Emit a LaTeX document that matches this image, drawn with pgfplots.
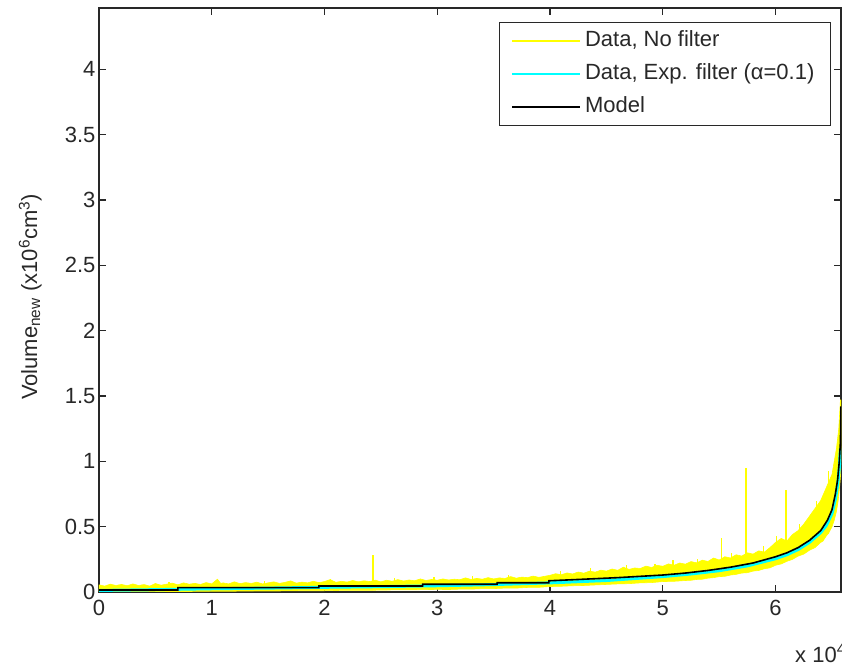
\documentclass[border=0pt]{standalone}
\usepackage{fontspec}
\setmainfont{Liberation Sans}
\usepackage{pgfplots}
\pgfplotsset{compat=1.18}
\usetikzlibrary{calc}
\definecolor{myyellow}{RGB}{255,255,0}
\definecolor{mycyan}{RGB}{0,255,255}
\definecolor{axcol}{RGB}{40,40,40}
\newcommand{\bigf}{\fontsize{22}{26}\selectfont}
\begin{document}
\begin{tikzpicture}
\begin{axis}[
  name=ax,
  at={(0,0)}, anchor=south west,
  scale only axis,
  width=742pt, height=584pt,
  xmin=0, xmax=6.58, ymin=0, ymax=4.47,
  xtick={0,1,2,3,4,5,6},
  ytick={0,0.5,1,1.5,2,2.5,3,3.5,4},
  yticklabels={0,0.5,1,1.5,2,2.5,3,3.5,4},
  xticklabels={0,1,2,3,4,5,6},
  tick align=inside,
  major tick length=7pt,
  tick style={axcol, line width=1.2pt},
  axis line style={axcol, line width=1.5pt},
  ticklabel style={font=\bigf, text=axcol},
  xticklabel style={yshift=-5pt},
  /pgf/number format/assume math mode=true,
  ylabel={Volume\textsubscript{new} (x10\textsuperscript{6}cm\textsuperscript{3})},
  ylabel style={font=\bigf, text=axcol, inner sep=0pt, anchor=south, at={(axis description cs:-0.077,0.505)}},
  legend cell align=left,
  legend image code/.code={\draw[#1, line width=1.5pt] (0pt,0pt) -- (68pt,0pt);},
  legend style={at={(0.9865,0.976)}, anchor=north east, draw=axcol, line width=1.2pt, fill=white,
    inner xsep=12pt, inner ysep=2pt, font=\bigf, text=axcol,
    nodes={inner xsep=4pt, inner ysep=6pt, text height=16pt, text depth=5pt}},
  unbounded coords=jump,
  clip=true,
]
\addlegendimage{myyellow}
\addlegendentry{Data, No filter}
% yellow noisy data: jagged band (upper edge, then lower edge back)
\addplot[draw=myyellow, fill=myyellow, line width=0.6pt, forget plot] coordinates {
(0.00,0.055) (0.05,0.045) (0.10,0.060) (0.15,0.050) (0.20,0.058) (0.25,0.048) (0.30,0.062) (0.35,0.050)
(0.40,0.057) (0.45,0.045) (0.50,0.065) (0.55,0.052) (0.60,0.060) (0.65,0.068) (0.70,0.055) (0.75,0.070)
(0.80,0.060) (0.85,0.066) (0.90,0.058) (0.95,0.072) (1.00,0.062) (1.05,0.098) (1.08,0.065) (1.10,0.070)
(1.15,0.062) (1.20,0.078) (1.25,0.064) (1.30,0.072) (1.35,0.066) (1.40,0.075) (1.45,0.062) (1.50,0.070)
(1.55,0.078) (1.60,0.066) (1.65,0.074) (1.70,0.085) (1.75,0.068) (1.80,0.076) (1.85,0.070) (1.90,0.082)
(1.95,0.072) (2.00,0.080) (2.05,0.095) (2.10,0.074) (2.15,0.082) (2.20,0.076) (2.25,0.088) (2.30,0.078)
(2.35,0.086) (2.40,0.080) (2.45,0.090) (2.50,0.078) (2.55,0.090) (2.60,0.082) (2.65,0.095) (2.70,0.084)
(2.75,0.092) (2.80,0.086) (2.85,0.100) (2.90,0.088) (2.95,0.096) (3.00,0.090) (3.05,0.100) (3.10,0.092)
(3.15,0.098) (3.20,0.094) (3.25,0.108) (3.30,0.096) (3.35,0.104) (3.40,0.098) (3.45,0.110) (3.50,0.100)
(3.55,0.108) (3.60,0.104) (3.65,0.118) (3.70,0.106) (3.75,0.114) (3.80,0.110) (3.85,0.122) (3.90,0.112)
(3.95,0.120) (4.00,0.128) (4.05,0.140) (4.10,0.132) (4.15,0.146) (4.20,0.138) (4.25,0.153) (4.30,0.144)
(4.35,0.160) (4.40,0.152) (4.45,0.167) (4.50,0.160) (4.55,0.176) (4.60,0.166) (4.65,0.190) (4.70,0.173)
(4.75,0.184) (4.80,0.180) (4.85,0.198) (4.90,0.188) (4.95,0.204) (5.00,0.197) (5.05,0.215) (5.10,0.205)
(5.15,0.222) (5.20,0.213) (5.25,0.233) (5.30,0.223) (5.35,0.244) (5.40,0.234) (5.45,0.260) (5.50,0.245)
(5.55,0.270) (5.60,0.260) (5.65,0.285) (5.70,0.275) (5.75,0.300) (5.80,0.290) (5.85,0.315) (5.90,0.305)
(5.95,0.340) (6.00,0.380) (6.05,0.410) (6.10,0.390) (6.15,0.440) (6.20,0.470) (6.25,0.520) (6.30,0.580)
(6.35,0.640) (6.40,0.700) (6.45,0.800) (6.48,0.860) (6.50,0.900) (6.52,1.000) (6.54,1.100) (6.56,1.250)
(6.575,1.470) (6.58,1.470)
(6.58,1.000) (6.575,0.880) (6.565,0.780) (6.555,0.700) (6.54,0.620) (6.52,0.550) (6.50,0.500) (6.47,0.450)
(6.45,0.430) (6.42,0.390) (6.40,0.380) (6.35,0.340) (6.30,0.320) (6.25,0.290) (6.20,0.275) (6.15,0.250)
(6.10,0.235) (6.05,0.215) (6.00,0.205) (5.95,0.185) (5.90,0.178) (5.85,0.165) (5.80,0.160) (5.75,0.148)
(5.70,0.145) (5.65,0.135) (5.60,0.130) (5.55,0.120) (5.50,0.118) (5.45,0.110) (5.40,0.106) (5.35,0.098)
(5.30,0.096) (5.25,0.090) (5.20,0.088) (5.10,0.082) (5.00,0.080) (4.90,0.072) (4.80,0.070) (4.70,0.064)
(4.60,0.062) (4.50,0.058) (4.40,0.054) (4.30,0.050) (4.20,0.048) (4.10,0.044) (4.00,0.042) (3.90,0.036)
(3.80,0.035) (3.70,0.030) (3.60,0.030) (3.50,0.026) (3.40,0.026) (3.30,0.022) (3.20,0.022) (3.10,0.019)
(3.00,0.020) (2.80,0.017) (2.60,0.016) (2.40,0.013) (2.20,0.013) (2.00,0.010) (1.80,0.010) (1.60,0.008)
(1.40,0.008) (1.20,0.006) (1.00,0.006) (0.80,0.004) (0.60,0.004) (0.40,0.003) (0.20,0.003) (0.00,0.003)
} -- cycle;
% isolated spikes of the raw data
\addplot[myyellow, line width=1.6pt, forget plot] coordinates {
(2.43,0.04) (2.43,0.28) (2.43,nan)
(5.09,0.12) (5.09,0.245) (5.09,nan)
(5.52,0.16) (5.52,0.41) (5.52,nan)
(5.74,0.18) (5.74,0.95) (5.74,nan)
(6.09,0.25) (6.09,0.78) (6.09,nan)
(6.47,0.50) (6.47,0.93) (6.47,nan)
};
% small spikes on the upper edge
\addplot[myyellow, line width=1.2pt, forget plot] coordinates {
(0.62,0.03) (0.62,0.080) (0.62,nan)
(1.47,0.04) (1.47,0.088) (1.47,nan)
(2.05,0.05) (2.05,0.102) (2.05,nan)
(2.62,0.05) (2.62,0.105) (2.62,nan)
(2.97,0.05) (2.97,0.112) (2.97,nan)
(3.31,0.06) (3.31,0.122) (3.31,nan)
(3.63,0.06) (3.63,0.128) (3.63,nan)
(4.09,0.08) (4.09,0.162) (4.09,nan)
(4.36,0.09) (4.36,0.180) (4.36,nan)
(4.68,0.10) (4.68,0.205) (4.68,nan)
(4.93,0.11) (4.93,0.215) (4.93,nan)
(5.31,0.14) (5.31,0.255) (5.31,nan)
(5.61,0.17) (5.61,0.300) (5.61,nan)
(5.89,0.22) (5.89,0.350) (5.89,nan)
(6.01,0.25) (6.01,0.430) (6.01,nan)
(6.21,0.30) (6.21,0.520) (6.21,nan)
(6.36,0.40) (6.36,0.700) (6.36,nan)
(6.51,0.60) (6.51,0.960) (6.51,nan)
};
% filtered data
\addplot[mycyan, line width=3pt] coordinates {
(0,0.012) (0.5,0.018) (1,0.025) (1.5,0.030) (2,0.036) (2.5,0.041) (3,0.048) (3.5,0.057) (4,0.070)
(4.5,0.088) (5,0.118) (5.25,0.138) (5.5,0.163) (5.75,0.200) (6,0.255) (6.1,0.285) (6.2,0.325)
(6.3,0.380) (6.4,0.455) (6.45,0.510) (6.5,0.600) (6.53,0.710) (6.55,0.820) (6.565,0.950) (6.575,1.100)
};
\addlegendentry{Data, Exp. filter (α=0.1)}
% model
\addplot[black, line width=1.6pt] coordinates {
(0,0.015) (0.7,0.015) (0.7,0.033) (1.95,0.033) (1.95,0.046) (2.87,0.046) (2.87,0.059) (3.53,0.059)
(3.53,0.071) (3.99,0.071) (3.99,0.086) (4.2,0.094) (4.4,0.102) (4.6,0.110) (4.8,0.120) (5.0,0.130)
(5.2,0.145) (5.4,0.165) (5.6,0.190) (5.8,0.222) (6.0,0.270) (6.1,0.300) (6.2,0.340) (6.3,0.395)
(6.4,0.470) (6.46,0.550) (6.5,0.630) (6.53,0.750) (6.55,0.860) (6.565,1.000) (6.575,1.150) (6.58,1.420)
};
\addlegendentry{Model}
\end{axis}
\node[font=\bigf, text=axcol, anchor=base west, inner sep=0pt] at ($(ax.south west)+(696pt,-70pt)$) {x 10\textsuperscript{4}};
\pgfresetboundingbox
\path[use as bounding box] (ax.south west) ++(-99pt,-73pt) rectangle ++(842pt,665pt);
\end{tikzpicture}
\end{document}
